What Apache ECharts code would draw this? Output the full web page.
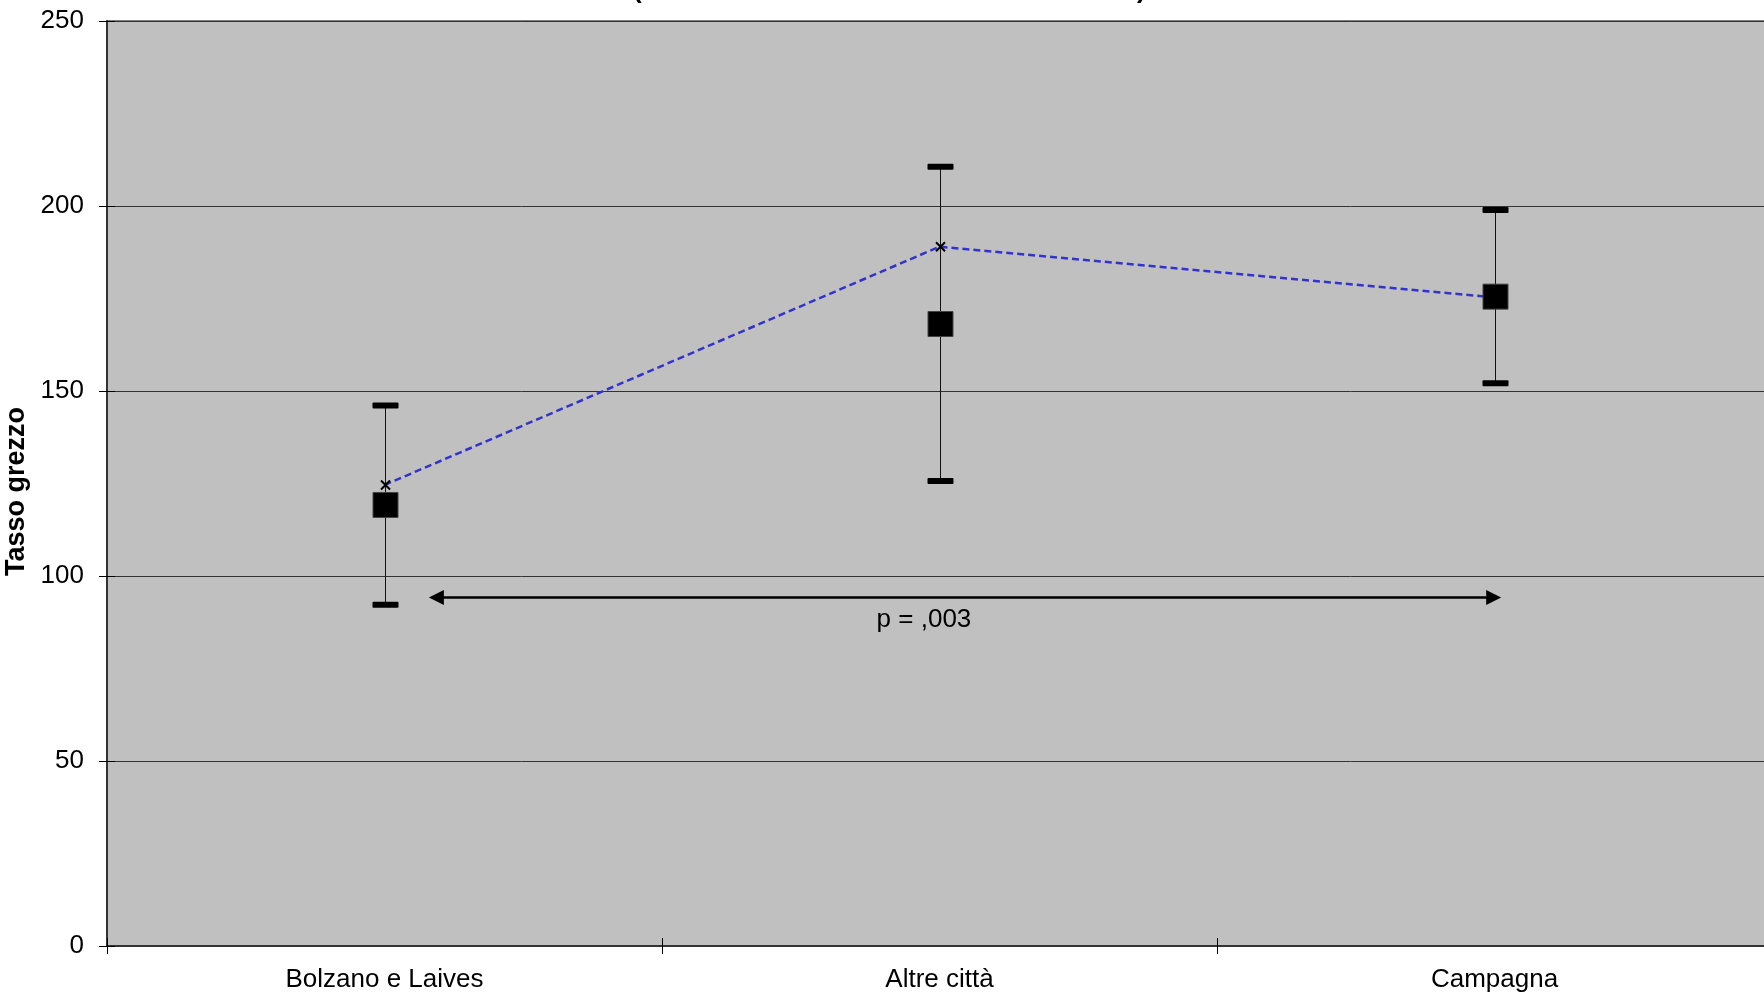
<!DOCTYPE html>
<html><head><meta charset="utf-8">
<script src="https://cdn.jsdelivr.net/npm/echarts@6/dist/echarts.min.js"></script>
<style>html,body{margin:0;padding:0;background:#fff}#c{width:1764px;height:993px}</style>
</head><body><div id="c"></div>
<script>
const categories = ['Bolzano e Laives', 'Altre città', 'Campagna'];
const squareValues = [119.2, 168.1, 175.5];
const ciLower = [92.2, 125.7, 152.1];
const ciUpper = [146.1, 210.6, 198.9];
const lineValues = [124.6, 189.0, 175.3];
const yTicks = [0, 50, 100, 150, 200, 250];
const yAxisName = 'Tasso grezzo';
const pLabel = 'p = ,003';
const arrowFrom = 0, arrowTo = 2, arrowValue = 94.2, pLabelValue = 88.1;

const FONT = 'Liberation Sans, Arial, sans-serif';
const chart = echarts.init(document.getElementById('c'), null, {renderer: 'canvas'});

const yMin = yTicks[0], yMax = yTicks[yTicks.length - 1], yInt = yTicks[1] - yTicks[0];

const option = {
  animation: false,
  backgroundColor: '#ffffff',
  graphic: [
    {type: 'text', left: 633, top: -22, style: {text: '(', font: 'bold 26px ' + FONT, fill: '#000'}},
    {type: 'text', left: 1137, top: -22, style: {text: ')', font: 'bold 26px ' + FONT, fill: '#000'}}
  ],
  grid: {
    left: 107, top: 21, width: 1665, height: 925,
    outerBoundsMode: 'none', containLabel: false,
    show: true, backgroundColor: '#c0c0c0', borderColor: '#808080', borderWidth: 2
  },
  xAxis: [{
    type: 'category', data: categories, boundaryGap: true,
    axisLine: {show: true, lineStyle: {color: '#333', width: 2}},
    axisTick: {show: true, length: 8, interval: 0, lineStyle: {color: '#000'}},
    axisLabel: {fontSize: 26, fontFamily: FONT, color: '#000', margin: 21, interval: 0},
    splitLine: {show: false}
  }, {
    type: 'category', data: categories, boundaryGap: true, position: 'bottom', offset: 0,
    axisLine: {show: false},
    axisTick: {show: true, inside: true, length: 8, interval: 0, lineStyle: {color: '#000'}},
    axisLabel: {show: false}, splitLine: {show: false}
  }],
  yAxis: [{
    type: 'value', min: yMin, max: yMax, interval: yInt,
    name: yAxisName, nameLocation: 'middle', nameGap: 68, nameRotate: 90,
    nameTextStyle: {fontSize: 27, fontWeight: 'bold', fontFamily: FONT, color: '#000', padding: [0, 16, 0, 0]},
    axisLine: {show: true, lineStyle: {color: '#333', width: 2}},
    axisTick: {show: true, length: 8, lineStyle: {color: '#000'}},
    axisLabel: {fontSize: 26, fontFamily: FONT, color: '#000', margin: 23, padding: [5, 0, 0, 0]},
    splitLine: {show: true, lineStyle: {color: '#333', width: 1}}
  }, {
    type: 'value', min: yMin, max: yMax, interval: yInt, position: 'left', offset: 0,
    axisLine: {show: false},
    axisTick: {show: true, inside: true, length: 8, lineStyle: {color: '#000'}},
    axisLabel: {show: false}, splitLine: {show: false}
  }],
  series: [
    {
      type: 'custom', name: 'ci', z: 2, clip: false,
      data: categories.map((c, i) => [i, ciLower[i], ciUpper[i]]),
      encode: {x: 0, y: [1, 2]},
      renderItem: function (params, api) {
        const i = api.value(0);
        const lo = api.coord([i, api.value(1)]);
        const hi = api.coord([i, api.value(2)]);
        const x = Math.round(lo[0]) + 0.5;
        return {type: 'group', children: [
          {type: 'line', shape: {x1: x, y1: lo[1], x2: x, y2: hi[1]}, style: {stroke: '#111', lineWidth: 1}},
          {type: 'rect', shape: {x: x - 13, y: hi[1] - 3, width: 26, height: 6, r: 1}, style: {fill: '#000'}},
          {type: 'rect', shape: {x: x - 13, y: lo[1] - 3, width: 26, height: 6, r: 1}, style: {fill: '#000'}}
        ]};
      }
    },
    {
      type: 'line', name: 'line', z: 3, data: lineValues, symbol: 'none',
      lineStyle: {color: '#3333cc', width: 2.5, type: [7, 4]}
    },
    {
      type: 'custom', name: 'markers', z: 4, clip: false,
      data: categories.map((c, i) => [i, squareValues[i], lineValues[i]]),
      encode: {x: 0, y: [1, 2]},
      renderItem: function (params, api) {
        const i = api.value(0);
        const s = api.coord([i, api.value(1)]);
        const m = api.coord([i, api.value(2)]);
        const x = Math.round(s[0]) + 0.5;
        const h = 4.5;
        return {type: 'group', children: [
          {type: 'line', shape: {x1: x - h, y1: m[1] - h, x2: x + h, y2: m[1] + h}, style: {stroke: '#000', lineWidth: 2}},
          {type: 'line', shape: {x1: x - h, y1: m[1] + h, x2: x + h, y2: m[1] - h}, style: {stroke: '#000', lineWidth: 2}},
          {type: 'rect', shape: {x: x - 12.5, y: s[1] - 12.5, width: 25, height: 25}, style: {fill: '#000', stroke: '#444', lineWidth: 1}}
        ]};
      }
    },
    {
      type: 'custom', name: 'arrow', z: 5, clip: false,
      data: [[arrowFrom, arrowTo, arrowValue, pLabelValue]],
      encode: {x: [0, 1], y: [2, 3]},
      renderItem: function (params, api) {
        const bw = api.size([1, 0])[0];
        const p1 = api.coord([api.value(0), api.value(2)]);
        const p2 = api.coord([api.value(1), api.value(2)]);
        const mid = api.coord([(api.value(0) + api.value(1)) / 2, api.value(3)]);
        const x1 = p1[0] + 0.08 * bw, x2 = p2[0] + 0.012 * bw, y = p1[1];
        const L = 15, W = 7.5;
        return {type: 'group', children: [
          {type: 'line', shape: {x1: x1 + L - 2, y1: y, x2: x2 - L + 2, y2: y}, style: {stroke: '#000', lineWidth: 2.5}},
          {type: 'polygon', shape: {points: [[x1, y], [x1 + L, y - W], [x1 + L, y + W]]}, style: {fill: '#000'}},
          {type: 'polygon', shape: {points: [[x2, y], [x2 - L, y - W], [x2 - L, y + W]]}, style: {fill: '#000'}},
          {type: 'text', style: {text: pLabel, x: mid[0] - 0.028 * bw, y: mid[1], font: '26px ' + FONT, fill: '#000',
            align: 'center', verticalAlign: 'middle', textAlign: 'center', textVerticalAlign: 'middle'}}
        ]};
      }
    }
  ]
};
chart.setOption(option);
</script>
</body></html>
